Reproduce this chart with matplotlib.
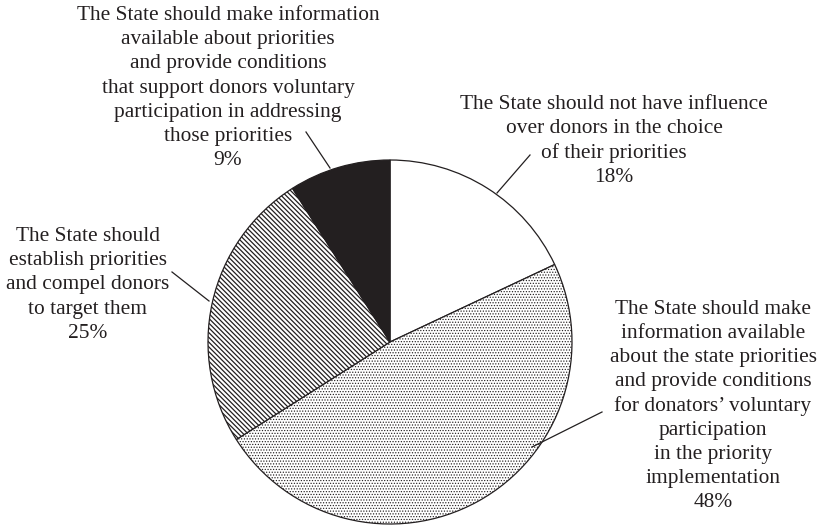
import matplotlib
matplotlib.use("Agg")
import matplotlib.pyplot as plt

plt.rcParams['font.family'] = ['Liberation Serif', 'DejaVu Serif']
plt.rcParams['hatch.linewidth'] = 0.9

W, H = 821, 526

labels = [
    "The State should not have influence\nover donors in the choice\nof their priorities",
    "The State should make\ninformation available\nabout the state priorities\nand provide conditions\nfor donators\u2019 voluntary\nparticipation\nin the priority\nimplementation",
    "The State should\nestablish priorities\nand compel donors\nto target them",
    "The State should make information\navailable about priorities\nand provide conditions\nthat support donors voluntary\nparticipation in addressing\nthose priorities",
]
values = [18, 48, 25, 9]
fills = ['white', 'white', 'white', '#231f20']
hatches = [None, '......', '\\' * 7, None]
hatch_lws = [0.9, 0.55, 0.9, 0.9]

# label layout in pixel coords (center x, center y of text block), leader line (x0,y0,x1,y1)
label_pos = [(614, 141), (713, 406), (88, 285), (228, 88)]
leaders = [(530, 155, 497, 193), (602, 412, 532, 447), (172, 272, 209, 301), (306, 132, 330, 168)]

fig = plt.figure(figsize=(W / 100, H / 100), dpi=100)
ax = fig.add_axes([0, 0, 1, 1])

def Y(y):
    return H - y

wedges, _ = ax.pie(values, startangle=90, counterclock=False, center=(390, Y(342)),
                   radius=182, colors=fills, frame=True,
                   wedgeprops=dict(edgecolor='#231f20', linewidth=0.9))
for w, h, hl in zip(wedges, hatches, hatch_lws):
    if h:
        w.set_hatch(h)
        if hasattr(w, 'set_hatch_linewidth'):
            w.set_hatch_linewidth(hl)
ax.set_xlim(0, W)
ax.set_ylim(0, H)
ax.set_aspect('equal')
ax.axis('off')

for lab, v, (cx, cy), (x0, y0, x1, y1) in zip(labels, values, label_pos, leaders):
    ax.text(cx, Y(cy), f"{lab}\n{v}%", ha='center', va='center', fontsize=15.4,
            color='#231f20', linespacing=1.36, multialignment='center')
    ax.plot([x0, x1], [Y(y0), Y(y1)], color='#231f20', lw=0.9)

fig.savefig('out.png', dpi=100)
